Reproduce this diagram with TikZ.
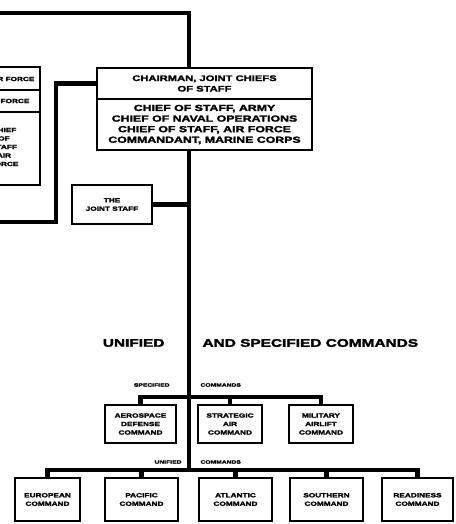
\documentclass[tikz,border=0pt]{standalone}
\usepackage{fontspec}
\newfontfamily\orgfont[FakeStretch=1.4,BoldFeatures={FakeBold=2.5}]{Liberation Sans}
\usetikzlibrary{positioning}
\tikzset{
  orgbox/.style={draw, line width=2pt, fill=white, align=center, inner sep=1pt, outer sep=0pt},
  link/.style={line width=4.2pt},
  chieftext/.style={font=\orgfont\bfseries\fontsize{8}{10.5}\selectfont},
  membertext/.style={font=\orgfont\bfseries\fontsize{8.8}{10.6}\selectfont},
  cmdtext/.style={font=\orgfont\bfseries\fontsize{5.9}{8.5}\selectfont},
  tagtext/.style={font=\orgfont\bfseries\fontsize{4.8}{6}\selectfont},
  headtext/.style={font=\orgfont\bfseries\fontsize{11}{13}\selectfont},
}
\begin{document}
\begin{tikzpicture}[x=1pt,y=-1pt]
    \useasboundingbox (0,0) rectangle (455,524);
    \clip (0,0) rectangle (455,524);
    %% Joint Chiefs of Staff
    \node[orgbox, chieftext, minimum width=215pt, minimum height=31pt] (chair) at (204.5,83.5)
        {CHAIRMAN, JOINT CHIEFS\\OF STAFF};
    \node[orgbox, membertext, minimum width=215pt, minimum height=51pt, anchor=north] (members) at (chair.south)
        {CHIEF OF STAFF, ARMY\\CHIEF OF NAVAL OPERATIONS\\CHIEF OF STAFF, AIR FORCE\\COMMANDANT, MARINE CORPS};
    %% Department of the Air Force (cut off at the left)
    \draw[line width=2pt] (-40,67) rectangle (40,185);
    \draw[line width=2pt] (-40,90) -- (40,90);
    \draw[line width=2pt] (-40,112) -- (40,112);
    \node[cmdtext, anchor=east] (dept) at (38,79) {DEPARTMENT OF THE AIR FORCE};
    \node[cmdtext, anchor=east] (secaf) at (33,101) {SECRETARY OF THE AIR FORCE};
    \node[cmdtext, align=center] (csaf) at (4,147) {CHIEF\\OF\\STAFF\\AIR\\FORCE};
    %% The Joint Staff
    \node[orgbox, cmdtext, minimum width=80pt, minimum height=39pt] (jstaff) at (112,204.5)
        {THE\\JOINT STAFF};
    %% Trunk line
    \coordinate (top) at (189,13);
    \coordinate (offleft) at (-5,13);
    \coordinate (offdept) at (-5,222);
    \coordinate (specbar) at (189,397);
    \coordinate (unibar) at (189,470);
    \draw[link] (offleft) -- (top) -- (top |- chair.north);
    \draw[link] (members.south -| top) -- (unibar);
    \draw[link] (chair.west) -| (56,222) -- (offdept);
    \draw[link] (jstaff.east) -- (jstaff.east -| top);
    %% Heading
    \node[headtext, anchor=east] (unified) at (168,343) {UNIFIED};
    \node[headtext, anchor=west] (andspec) at (199,343) {AND SPECIFIED COMMANDS};
    %% Specified commands
    \node[tagtext, anchor=east] (spectag) at (173,385) {SPECIFIED};
    \node[tagtext, anchor=west] (speccmd) at (197,385) {COMMANDS};
    \node[orgbox, cmdtext, minimum width=71pt, minimum height=38pt] (aero) at (140.5,424)
        {AEROSPACE\\DEFENSE\\COMMAND};
    \node[orgbox, cmdtext, minimum width=64pt, minimum height=38pt] (sac) at (230,424)
        {STRATEGIC\\AIR\\COMMAND};
    \node[orgbox, cmdtext, minimum width=64pt, minimum height=38pt] (mac) at (321,424)
        {MILITARY\\AIRLIFT\\COMMAND};
    \draw[link] (aero.north) |- (specbar) -| (mac.north);
    \draw[link] (sac.north) -- (sac.north |- specbar);
    %% Unified commands
    \node[tagtext, anchor=east] (unitag) at (185,462) {UNIFIED};
    \node[tagtext, anchor=west] (unicmd) at (197,462) {COMMANDS};
    \node[orgbox, cmdtext, minimum width=65pt, minimum height=43pt] (eur) at (47.5,499.5)
        {EUROPEAN\\COMMAND};
    \node[orgbox, cmdtext, minimum width=73pt, minimum height=43pt] (pac) at (141.5,499.5)
        {PACIFIC\\COMMAND};
    \node[orgbox, cmdtext, minimum width=73pt, minimum height=43pt] (atl) at (235.5,499.5)
        {ATLANTIC\\COMMAND};
    \node[orgbox, cmdtext, minimum width=73pt, minimum height=43pt] (south) at (326.5,499.5)
        {SOUTHERN\\COMMAND};
    \node[orgbox, cmdtext, minimum width=71pt, minimum height=43pt] (ready) at (417.5,499.5)
        {READINESS\\COMMAND};
    \draw[link] (eur.north) |- (unibar) -| (ready.north);
    \foreach \cmd in {pac,atl,south}
        \draw[link] (\cmd.north) -- (\cmd.north |- unibar);
\end{tikzpicture}
\end{document}
